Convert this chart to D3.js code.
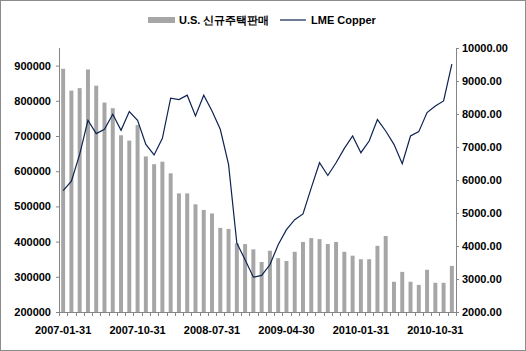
<!DOCTYPE html>
<html>
<head>
<meta charset="utf-8">
<script src="https://cdn.jsdelivr.net/npm/d3@7"></script>
<style>
  body { margin: 0; background: #fff; }
  svg text { font-family: "Liberation Sans", Arial, sans-serif; font-weight: bold; font-size: 11px; fill: #000; }
</style>
</head>
<body>
<div id="chart"></div>
<script>
// Months 2007-01 .. 2010-12 (month-end dates)
const months = [];
for (let y = 2007; y <= 2010; y++) {
  for (let m = 1; m <= 12; m++) {
    const last = new Date(Date.UTC(y, m, 0)).getUTCDate();
    months.push(`${y}-${String(m).padStart(2, "0")}-${String(last).padStart(2, "0")}`);
  }
}

// U.S. new home sales (bars, left axis)
const homeSales = [
  891000, 829000, 836000, 889000, 843000, 795000, 779000, 702000, 687000, 731000, 642000, 620000,
  627000, 594000, 537000, 537000, 506000, 490000, 480000, 439000, 436000, 395000, 393000, 378000,
  342000, 374000, 353000, 345000, 371000, 399000, 410000, 407000, 393000, 399000, 371000, 360000,
  350000, 350000, 388000, 416000, 286000, 314000, 286000, 277000, 320000, 283000, 283000, 331000
];

// LME Copper (line, right axis)
const copper = [
  5680, 5965, 6776, 7810, 7405, 7536, 7992, 7506, 8074, 7810, 7080, 6760,
  7262, 8479, 8439, 8570, 7941, 8570, 8094, 7536, 6471, 4090, 3582, 3055,
  3110, 3430, 4040, 4494, 4798, 4972, 5762, 6523, 6137, 6523, 6958, 7333,
  6827, 7180, 7830, 7485, 7080, 6492, 7333, 7466, 8044, 8245, 8397, 9513
];

const leftTicks = [200000, 300000, 400000, 500000, 600000, 700000, 800000, 900000];
const rightTicks = [2000, 3000, 4000, 5000, 6000, 7000, 8000, 9000, 10000];
const xLabels = ["2007-01-31", "2007-10-31", "2008-07-31", "2009-04-30", "2010-01-31", "2010-10-31"];

const width = 526, height = 351;
const margin = { top: 48, right: 70, bottom: 39, left: 59 };

const svg = d3.select("#chart").append("svg")
  .attr("width", width)
  .attr("height", height);

// chart area border
svg.append("rect")
  .attr("x", 0.5).attr("y", 0.5)
  .attr("width", width - 1).attr("height", height - 1)
  .attr("fill", "#fff")
  .attr("stroke", "#8c8c8c");

const x = d3.scaleBand()
  .domain(months)
  .range([margin.left, width - margin.right])
  .paddingInner(0.52)
  .paddingOuter(0.26);

const yLeft = d3.scaleLinear()
  .domain([200000, 950000])
  .range([height - margin.bottom, margin.top]);

const yRight = d3.scaleLinear()
  .domain([2000, 10000])
  .range([height - margin.bottom, margin.top]);

// bars
svg.append("g")
  .selectAll("rect")
  .data(homeSales)
  .join("rect")
  .attr("x", (d, i) => x(months[i]))
  .attr("y", d => yLeft(d))
  .attr("width", x.bandwidth())
  .attr("height", d => yLeft(200000) - yLeft(d))
  .attr("fill", "#a6a6a6");

// copper line
const line = d3.line()
  .x((d, i) => x(months[i]) + x.bandwidth() / 2)
  .y(d => yRight(d));

svg.append("path")
  .datum(copper)
  .attr("d", line)
  .attr("fill", "none")
  .attr("stroke", "#0d2352")
  .attr("stroke-width", 1.2);

// axes
const axisColor = "#868686";

const gLeft = svg.append("g")
  .attr("transform", `translate(${margin.left},0)`)
  .call(d3.axisLeft(yLeft).tickValues(leftTicks).tickSize(3).tickPadding(5).tickFormat(d3.format("d")));

const gRight = svg.append("g")
  .attr("transform", `translate(${width - margin.right},0)`)
  .call(d3.axisRight(yRight).tickValues(rightTicks).tickSize(3).tickPadding(3).tickFormat(d3.format(".2f")));

// x axis: ticks at category boundaries, labels every 9 months
const step = x.step();
const xStart = margin.left, xEnd = width - margin.right;
const bounds = d3.range(months.length + 1).map(i => xStart + i * (xEnd - xStart) / months.length);

const gX = svg.append("g");
gX.append("line")
  .attr("x1", xStart).attr("x2", xEnd)
  .attr("y1", height - margin.bottom + 0.5).attr("y2", height - margin.bottom + 0.5);
gX.selectAll("line.tick")
  .data(bounds)
  .join("line")
  .attr("class", "tick")
  .attr("x1", d => Math.round(d) + 0.5).attr("x2", d => Math.round(d) + 0.5)
  .attr("y1", height - margin.bottom).attr("y2", height - margin.bottom + 4);
gX.selectAll("text")
  .data(xLabels)
  .join("text")
  .attr("x", d => x(d) + x.bandwidth() / 2)
  .attr("y", height - margin.bottom + 22)
  .attr("text-anchor", "middle")
  .text(d => d);

[gLeft, gRight].forEach(g => {
  g.select(".domain").attr("stroke", axisColor);
  g.selectAll(".tick line").attr("stroke", axisColor);
  g.selectAll("text").style("font-family", null).style("font-size", null).attr("font-family", null).attr("font-size", null);
});
gLeft.select(".domain").attr("d", `M0.5,${margin.top}V${height - margin.bottom}`);
gRight.select(".domain").attr("d", `M0.5,${margin.top}V${height - margin.bottom}`);
gX.selectAll("line").attr("stroke", axisColor);

// legend
const legend = svg.append("g");
legend.append("rect")
  .attr("x", 148).attr("y", 17)
  .attr("width", 27).attr("height", 6)
  .attr("fill", "#a6a6a6");
legend.append("text")
  .attr("x", 179).attr("y", 24)
  .text("U.S. 신규주택판매");
legend.append("line")
  .attr("x1", 280).attr("x2", 306)
  .attr("y1", 20).attr("y2", 20)
  .attr("stroke", "#0d2352")
  .attr("stroke-width", 1.2);
legend.append("text")
  .attr("x", 311).attr("y", 24)
  .text("LME Copper");
</script>
</body>
</html>
